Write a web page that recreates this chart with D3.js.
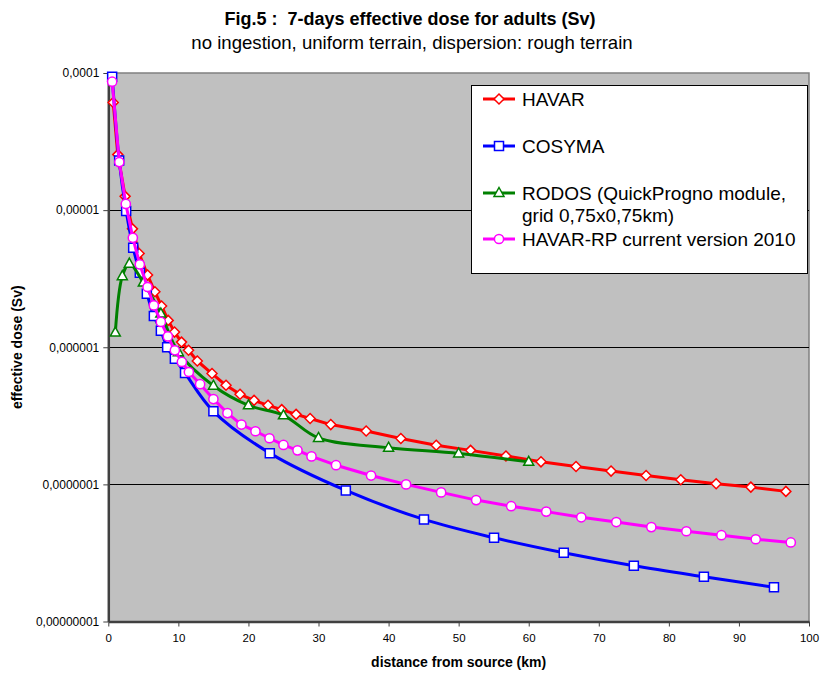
<!DOCTYPE html>
<html><head><meta charset="utf-8">
<script src="https://cdn.jsdelivr.net/npm/d3@7"></script>
<style>body{margin:0;background:#fff;} svg{display:block;font-family:"Liberation Sans",Arial,sans-serif;}</style>
</head><body><div id="chart"></div>
<script>
const seriesNames = ["HAVAR","COSYMA","RODOS (QuickProgno module,|grid 0,75x0,75km)","HAVAR-RP current version 2010"];
const distHavar = [0.7,1.35,2.4,3.45,4.4,5.6,6.65,7.6,8.55,9.45,10.45,11.45,12.7,14.8,16.8,18.8,20.8,22.8,24.75,26.8,28.8,31.75,36.8,41.75,46.8,51.7,56.75,61.75,66.75,71.75,76.75,81.7,86.75,91.7,96.7];
const doseHavar = [6.1e-5,2.54e-5,1.26e-5,7.3e-6,4.83e-6,3.36e-6,2.54e-6,2.0e-6,1.57e-6,1.29e-6,1.09e-6,9.5e-7,7.94e-7,6.43e-7,5.28e-7,4.54e-7,4.1e-7,3.77e-7,3.51e-7,3.24e-7,3.02e-7,2.73e-7,2.45e-7,2.16e-7,1.93e-7,1.77e-7,1.61e-7,1.46e-7,1.35e-7,1.25e-7,1.16e-7,1.08e-7,1.01e-7,9.55e-8,8.89e-8];
const distCosyma = [0.55,1.55,2.55,3.55,4.5,5.5,6.5,7.5,8.4,9.5,10.95,15,23.05,33.9,45.05,55.05,65,75,85,95];
const doseCosyma = [9.4e-5,2.3e-5,9.84e-6,5.31e-6,3.49e-6,2.46e-6,1.69e-6,1.32e-6,1.0e-6,8.26e-7,6.49e-7,3.41e-7,1.69e-7,9.03e-8,5.55e-8,4.08e-8,3.17e-8,2.55e-8,2.12e-8,1.78e-8];
const distRodos = [1,2,3,5,7.5,10,15,20,25,30,40,50,60];
const doseRodos = [1.28e-6,3.3e-6,4.07e-6,2.96e-6,1.76e-6,9.2e-7,5.24e-7,3.77e-7,3.19e-7,2.18e-7,1.85e-7,1.68e-7,1.46e-7];
const distHavarRP = [0.55,1.57,2.5,3.5,4.5,5.6,6.5,7.5,8.5,9.5,10.5,11.5,13.1,15,17,19,21,23,25,27,29,32.5,37.5,42.5,47.5,52.5,57.5,62.5,67.5,72.5,77.5,82.5,87.5,92.4,97.4];
const doseHavarRP = [8.64e-5,2.24e-5,1.11e-5,6.28e-6,4.02e-6,2.75e-6,2.02e-6,1.53e-6,1.2e-6,9.5e-7,7.81e-7,6.6e-7,5.38e-7,4.19e-7,3.31e-7,2.73e-7,2.44e-7,2.17e-7,1.94e-7,1.77e-7,1.6e-7,1.38e-7,1.16e-7,1.0e-7,8.74e-8,7.68e-8,6.93e-8,6.33e-8,5.75e-8,5.31e-8,4.88e-8,4.55e-8,4.26e-8,3.98e-8,3.77e-8];
const xTicks = [0,10,20,30,40,50,60,70,80,90,100];
const yTicks = [1e-8,1e-7,1e-6,1e-5,1e-4];
const yTickLabels = ["0,00000001","0,0000001","0,000001","0,00001","0,0001"];

const W = 820, H = 673;
const L = 108.3, R = 809, T = 73, B = 621.5;
const svg = d3.select("#chart").append("svg").attr("width", W).attr("height", H);
const x = d3.scaleLinear().domain([0,100]).range([L,R]);
const y = d3.scaleLog().domain([1e-8,1e-4]).range([B,T]);

svg.append("rect").attr("x",L).attr("y",T).attr("width",R-L).attr("height",B-T).attr("fill","#c0c0c0");
svg.append("path").attr("d",`M${L},${T}H${R}V${B}`).attr("fill","none").attr("stroke","#808080").attr("stroke-width",1.5);
svg.append("g").selectAll("line").data([1e-7,1e-6,1e-5]).join("line")
  .attr("x1",L).attr("x2",R).attr("y1",d=>Math.round(y(d))+0.5).attr("y2",d=>Math.round(y(d))+0.5)
  .attr("stroke","#000").attr("stroke-width",1);

const yAxis = d3.axisLeft(y).tickValues(yTicks).tickFormat((d,i)=>yTickLabels[i]).tickSize(5).tickSizeOuter(0).tickPadding(4);
const gy = svg.append("g").attr("transform",`translate(${L},0)`).call(yAxis);
gy.select(".domain").attr("stroke","#404040").attr("stroke-width",2.5);
gy.selectAll(".tick line").attr("stroke","#404040");
gy.selectAll("text").attr("font-size",12).attr("fill","#000").attr("font-family","Liberation Sans, Arial, sans-serif");
const xAxis = d3.axisBottom(x).tickValues(xTicks).tickFormat(d3.format("d")).tickSize(5).tickSizeOuter(0).tickPadding(7);
const gx = svg.append("g").attr("transform",`translate(0,${B})`).call(xAxis);
gx.select(".domain").attr("stroke","#404040").attr("stroke-width",2.5);
gx.selectAll(".tick line").attr("stroke","#404040");
gx.selectAll("text").attr("font-size",11.5).attr("fill","#000").attr("font-family","Liberation Sans, Arial, sans-serif");

const sym = {
  diamond: "M0,-5L5,0L0,5L-5,0Z",
  square: "M-4.5,-4.5H4.5V4.5H-4.5Z",
  triangle: "M0,-5.5L5,3.5H-5Z",
  circle: "M4.6,0A4.6,4.6 0 1 1 -4.6,0A4.6,4.6 0 1 1 4.6,0Z"
};
const series = [
  {name:seriesNames[0], xs:distHavar, ys:doseHavar, color:"#ff0000", shape:"diamond", curve:d3.curveLinear},
  {name:seriesNames[1], xs:distCosyma, ys:doseCosyma, color:"#0000ff", shape:"square", curve:d3.curveCatmullRom.alpha(0.5)},
  {name:seriesNames[2], xs:distRodos, ys:doseRodos, color:"#008000", shape:"triangle", curve:d3.curveCatmullRom.alpha(0.5)},
  {name:seriesNames[3], xs:distHavarRP, ys:doseHavarRP, color:"#ff00ff", shape:"circle", curve:d3.curveLinear}
];
series.forEach(s=>{
  const pts = s.xs.map((d,i)=>[d,s.ys[i]]);
  const line = d3.line().x(d=>x(d[0])).y(d=>y(d[1])).curve(s.curve);
  const g = svg.append("g");
  g.append("path").attr("d",line(pts)).attr("fill","none").attr("stroke",s.color).attr("stroke-width",3).attr("stroke-linejoin","round");
  g.selectAll("path.m").data(pts).join("path").attr("class","m")
    .attr("d",sym[s.shape]).attr("transform",d=>`translate(${x(d[0])},${y(d[1])})`)
    .attr("fill","#fff").attr("stroke",s.color).attr("stroke-width",1.5);
});

const lg = svg.append("g");
lg.append("rect").attr("x",471.5).attr("y",85.5).attr("width",336).attr("height",188).attr("fill","#fff").attr("stroke","#000").attr("stroke-width",1);
const legendY = [99,146,193,239];
series.forEach((s,i)=>{
  const yy = legendY[i];
  lg.append("line").attr("x1",483).attr("x2",515).attr("y1",yy).attr("y2",yy).attr("stroke",s.color).attr("stroke-width",3);
  lg.append("path").attr("d",sym[s.shape]).attr("transform",`translate(499,${yy})`).attr("fill","#fff").attr("stroke",s.color).attr("stroke-width",1.5);
  const parts = s.name.split("|");
  parts.forEach((p,j)=>{
    lg.append("text").attr("x",522).attr("y",yy+6.5+j*22).attr("font-size",19).attr("fill","#000").text(p);
  });
});

svg.append("text").attr("x",410).attr("y",25).attr("text-anchor","middle").attr("font-size",18).attr("font-weight","bold").style("white-space","pre").text("Fig.5 :  7-days effective dose for adults (Sv)");
svg.append("text").attr("x",412).attr("y",49).attr("text-anchor","middle").attr("font-size",18.6).text("no ingestion, uniform terrain, dispersion: rough terrain");
svg.append("text").attr("x",(L+R)/2).attr("y",667).attr("text-anchor","middle").attr("font-size",14).attr("font-weight","bold").text("distance from source (km)");
svg.append("text").attr("transform",`translate(22,${(T+B)/2}) rotate(-90)`).attr("text-anchor","middle").attr("font-size",14).attr("font-weight","bold").text("effective dose (Sv)");
</script></body></html>
